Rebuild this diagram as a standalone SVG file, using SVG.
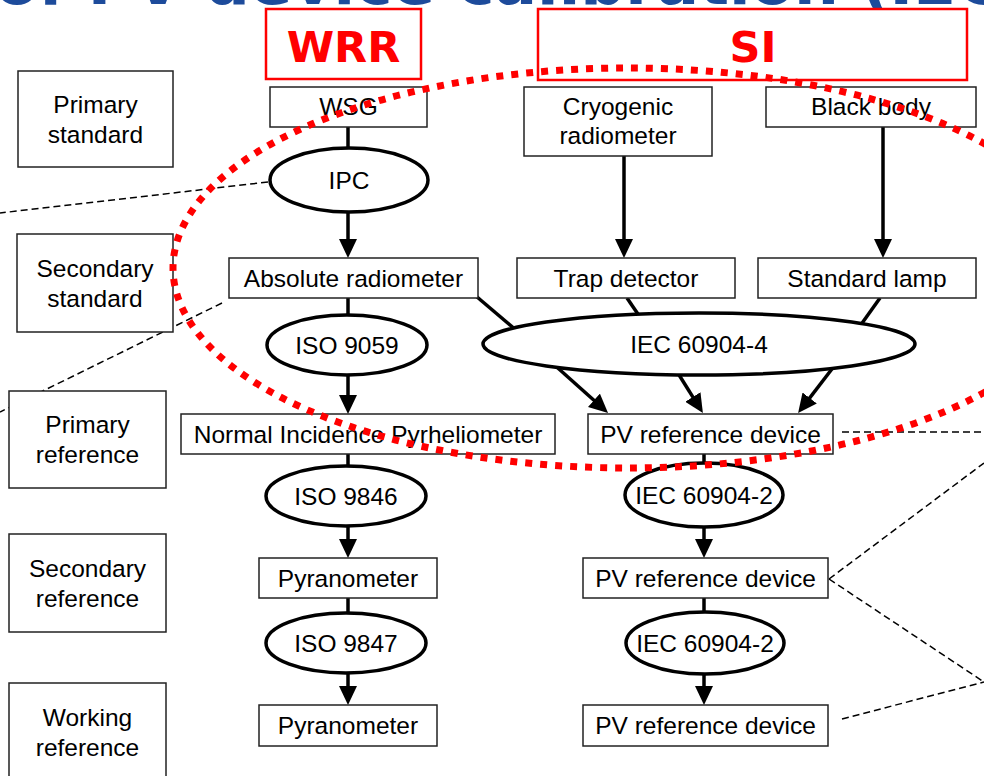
<svg xmlns="http://www.w3.org/2000/svg" width="984" height="776" viewBox="0 0 984 776">
<defs>
<style>
.bx{fill:#fff;stroke:#222;stroke-width:1.5}
.el{fill:#fff;stroke:#000;stroke-width:3.5}
.rb{fill:#fff;stroke:#ff0000;stroke-width:2.5}
.t{font-family:"Liberation Sans",Arial,sans-serif;font-size:24.5px;fill:#000;text-anchor:middle}
.rt{font-family:"DejaVu Sans",Verdana,sans-serif;font-weight:bold;font-size:43px;fill:#ff0000;text-anchor:middle}
.title{font-family:"DejaVu Sans",Verdana,sans-serif;font-weight:bold;font-size:63px;fill:#1d4b9b}
.cn{stroke:#000;stroke-width:3.5;fill:none}
.ar{stroke:#000;stroke-width:3.5;fill:none;marker-end:url(#ah)}
.dl{stroke:#000;stroke-width:1.5;stroke-dasharray:7 4;fill:none}
.red{fill:none;stroke:#ff0000;stroke-width:7;stroke-dasharray:7 8}
</style>
<marker id="ah" viewBox="0 0 19 18" markerWidth="19" markerHeight="18" refX="9" refY="9" orient="auto" markerUnits="userSpaceOnUse">
<path d="M0,0 L19,9 L0,18 z" fill="#000"/>
</marker>
</defs>
<rect width="984" height="776" fill="#fff"/>
<text class="title" x="-440" y="4">Traceability of PV device calibration (IEC 60904-4)</text>

<g id="connectors">
<line class="cn" x1="348" y1="127" x2="348" y2="150"/>
<line class="ar" x1="348" y1="200" x2="348" y2="248"/>
<line class="ar" x1="624" y1="156" x2="624" y2="248"/>
<line class="ar" x1="883" y1="127" x2="883" y2="248"/>
<line class="cn" x1="348" y1="298" x2="348" y2="320"/>
<line class="cn" x1="470" y1="291" x2="530" y2="342"/>
<line class="cn" x1="627" y1="298" x2="642" y2="320"/>
<line class="cn" x1="880" y1="298" x2="860" y2="326"/>
<line class="ar" x1="348" y1="365" x2="348" y2="404"/>
<line class="ar" x1="550" y1="361" x2="600.6" y2="406.3"/>
<line class="ar" x1="676" y1="370" x2="697.6" y2="404.6"/>
<line class="ar" x1="835" y1="365" x2="804.2" y2="405.1"/>
<line class="cn" x1="348" y1="454" x2="348" y2="470"/>
<line class="cn" x1="704" y1="454" x2="704" y2="468"/>
<line class="ar" x1="348" y1="515" x2="348" y2="548"/>
<line class="ar" x1="704" y1="515" x2="704" y2="548"/>
<line class="cn" x1="348" y1="598" x2="348" y2="618"/>
<line class="cn" x1="704" y1="598" x2="704" y2="618"/>
<line class="ar" x1="348" y1="665" x2="348" y2="695"/>
<line class="ar" x1="704" y1="665" x2="704" y2="695"/>
</g>

<g id="dashed">
<line class="dl" x1="268" y1="182" x2="0" y2="213"/>
<line class="dl" x1="222" y1="303" x2="0" y2="412"/>
<line class="dl" x1="842" y1="432" x2="984" y2="432"/>
<line class="dl" x1="829" y1="579" x2="984" y2="463"/>
<line class="dl" x1="829" y1="579" x2="984" y2="682"/>
<line class="dl" x1="842" y1="719" x2="984" y2="682"/>
</g>

<g id="wrr"><rect class="rb" x="266" y="9" width="155" height="70"/><text class="rt" x="343.5" y="62">WRR</text></g>
<g id="si"><rect class="rb" x="538" y="9" width="429" height="71"/><text class="rt" x="753" y="62">SI</text></g>

<g id="primary-standard"><rect class="bx" x="18" y="71" width="155" height="96"/><text class="t" x="95.5" y="113">Primary</text><text class="t" x="95.5" y="143">standard</text></g>
<g id="secondary-standard"><rect class="bx" x="17" y="234" width="156" height="98"/><text class="t" x="95" y="277">Secondary</text><text class="t" x="95" y="307">standard</text></g>
<g id="primary-reference"><rect class="bx" x="9" y="391" width="157" height="97"/><text class="t" x="87.5" y="433">Primary</text><text class="t" x="87.5" y="463">reference</text></g>
<g id="secondary-reference"><rect class="bx" x="9" y="534" width="157" height="98"/><text class="t" x="87.5" y="577">Secondary</text><text class="t" x="87.5" y="607">reference</text></g>
<g id="working-reference"><rect class="bx" x="9" y="683" width="157" height="100"/><text class="t" x="87.5" y="726">Working</text><text class="t" x="87.5" y="756">reference</text></g>

<g id="wsg"><rect class="bx" x="270" y="87" width="157" height="40"/><text class="t" x="348.5" y="115">WSG</text></g>
<g id="cryogenic"><rect class="bx" x="524" y="87" width="188" height="69"/><text class="t" x="618" y="115">Cryogenic</text><text class="t" x="618" y="144">radiometer</text></g>
<g id="blackbody"><rect class="bx" x="766" y="87" width="210" height="40"/><text class="t" x="871" y="115">Black body</text></g>
<g id="ipc"><ellipse class="el" cx="349" cy="180" rx="79" ry="32"/><text class="t" x="349" y="189">IPC</text></g>
<g id="absolute"><rect class="bx" x="229" y="258" width="249" height="40"/><text class="t" x="353.5" y="287">Absolute radiometer</text></g>
<g id="trap"><rect class="bx" x="517" y="258" width="218" height="40"/><text class="t" x="626" y="287">Trap detector</text></g>
<g id="lamp"><rect class="bx" x="758" y="258" width="218" height="40"/><text class="t" x="867" y="287">Standard lamp</text></g>
<g id="iso9059"><ellipse class="el" cx="347" cy="345" rx="80" ry="30"/><text class="t" x="347" y="354">ISO 9059</text></g>
<g id="iec4"><ellipse class="el" cx="699" cy="344" rx="216" ry="31"/><text class="t" x="699" y="353">IEC 60904-4</text></g>
<g id="nip"><rect class="bx" x="181" y="414" width="374" height="40"/><text class="t" x="368" y="443">Normal Incidence Pyrheliometer</text></g>
<g id="pv1"><rect class="bx" x="588" y="414" width="245" height="40"/><text class="t" x="710.5" y="443">PV reference device</text></g>
<g id="iso9846"><ellipse class="el" cx="346" cy="496" rx="80" ry="30"/><text class="t" x="346" y="505">ISO 9846</text></g>
<g id="iec2a"><ellipse class="el" cx="704" cy="495" rx="79" ry="32"/><text class="t" x="704" y="504">IEC 60904-2</text></g>
<g id="pyr1"><rect class="bx" x="259" y="558" width="178" height="40"/><text class="t" x="348" y="587">Pyranometer</text></g>
<g id="pv2"><rect class="bx" x="583" y="558" width="245" height="40"/><text class="t" x="705.5" y="587">PV reference device</text></g>
<g id="iso9847"><ellipse class="el" cx="346" cy="643" rx="80" ry="30"/><text class="t" x="346" y="652">ISO 9847</text></g>
<g id="iec2b"><ellipse class="el" cx="705" cy="643" rx="79" ry="31"/><text class="t" x="705" y="652">IEC 60904-2</text></g>
<g id="pyr2"><rect class="bx" x="259" y="705" width="178" height="41"/><text class="t" x="348" y="734">Pyranometer</text></g>
<g id="pv3"><rect class="bx" x="583" y="705" width="245" height="41"/><text class="t" x="705.5" y="734">PV reference device</text></g>

<g id="scope"><ellipse class="red" cx="628" cy="268" rx="455" ry="200"/></g>
</svg>
